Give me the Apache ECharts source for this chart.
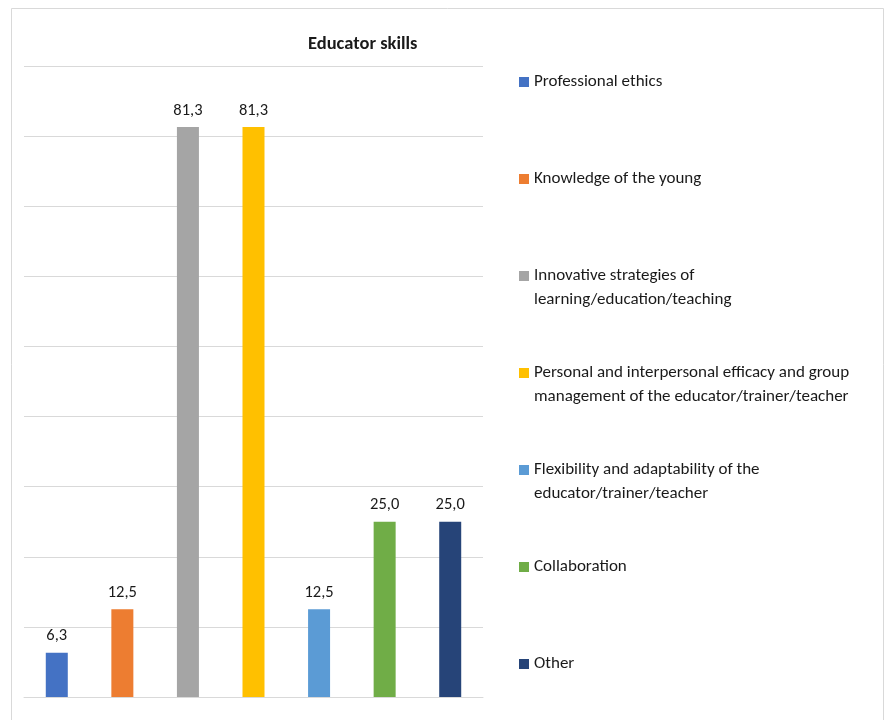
<!DOCTYPE html>
<html>
<head>
<meta charset="utf-8">
<script src="https://cdn.jsdelivr.net/npm/echarts@6/dist/echarts.min.js"></script>
<style>html,body{margin:0;padding:0;background:#fff}#chart{width:885px;height:720px}</style>
</head>
<body>
<div id="chart"></div>
<script>
const titleText = 'Educator skills';
const categories = [
  'Professional ethics',
  'Knowledge of the young',
  'Innovative strategies of learning/education/teaching',
  'Personal and interpersonal efficacy and group management of the educator/trainer/teacher',
  'Flexibility and adaptability of the educator/trainer/teacher',
  'Collaboration',
  'Other'
];
const legendLines = [
  ['Professional ethics'],
  ['Knowledge of the young'],
  ['Innovative strategies of', 'learning/education/teaching'],
  ['Personal and interpersonal efficacy and group', 'management of the educator/trainer/teacher'],
  ['Flexibility and adaptability of the', 'educator/trainer/teacher'],
  ['Collaboration'],
  ['Other']
];
const values = [6.3, 12.5, 81.3, 81.3, 12.5, 25.0, 25.0];
const colors = ['#4472C4', '#ED7D31', '#A5A5A5', '#FFC000', '#5B9BD5', '#70AD47', '#264478'];
const yTicks = { min: 0, max: 90, interval: 10 };

const FONT = 'Carlito, Calibri, "Liberation Sans", sans-serif';
const TEXT = '#1a1a1a';

const series = categories.map((name, i) => ({
  name: name,
  type: 'bar',
  stack: 'all',
  barWidth: 22,
  itemStyle: { color: colors[i] },
  label: {
    show: true,
    position: 'top',
    distance: 8,
    fontFamily: FONT,
    fontSize: 16.5,
    color: TEXT,
    formatter: p => (p.value == null ? '' : p.value.toFixed(1).replace('.', ','))
  },
  data: categories.map((c, j) => (j === i ? values[i] : null))
}));

const chart = echarts.init(document.getElementById('chart'), null, { renderer: 'canvas' });
chart.setOption({
  animation: false,
  backgroundColor: '#fff',
  textStyle: { fontFamily: FONT },
  title: {
    text: titleText,
    left: 308,
    top: 33,
    padding: 0,
    textStyle: { fontFamily: FONT, fontSize: 18.5, fontWeight: 'bold', color: TEXT, lineHeight: 22 }
  },
  legend: {
    orient: 'vertical',
    left: 519,
    top: 46,
    padding: 0,
    itemGap: 25,
    itemWidth: 10,
    itemHeight: 10,
    icon: 'rect',
    data: categories,
    selectedMode: false,
    formatter: name => {
      const lines = legendLines[categories.indexOf(name)];
      return '\n' + lines.join('\n') + (lines.length === 1 ? '\n' : '');
    },
    textStyle: { fontFamily: FONT, fontSize: 17, lineHeight: 24, color: TEXT }
  },
  graphic: [{
    type: 'rect',
    shape: { x: 11.5, y: 8.5, width: 872, height: 720 },
    style: { fill: 'none', stroke: '#d9d9d9', lineWidth: 1 },
    silent: true
  }],
  grid: { left: 24, right: 402, top: 66, bottom: 23, containLabel: false },
  xAxis: {
    type: 'category',
    data: categories,
    axisLine: { show: true, lineStyle: { color: '#d9d9d9', width: 1 } },
    axisTick: { show: false },
    axisLabel: { show: false }
  },
  yAxis: {
    type: 'value',
    min: yTicks.min,
    max: yTicks.max,
    interval: yTicks.interval,
    axisLine: { show: false },
    axisTick: { show: false },
    axisLabel: { show: false },
    splitLine: { lineStyle: { color: '#d9d9d9', width: 1 } }
  },
  series: series
});
</script>
</body>
</html>
